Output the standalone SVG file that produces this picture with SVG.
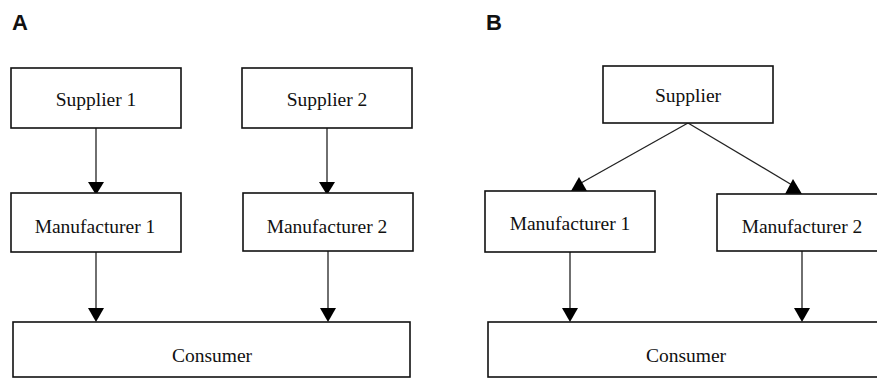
<svg xmlns="http://www.w3.org/2000/svg" width="877" height="379" viewBox="0 0 877 379">
<style>
.box{fill:#fff;stroke:#111;stroke-width:1.6}
.lbl{font-family:"Liberation Serif","Times New Roman",serif;font-size:19.5px;fill:#111;text-anchor:middle}
.panel{font-family:"Liberation Sans",Arial,sans-serif;font-size:22px;font-weight:bold;fill:#111}
.ln{stroke:#222;stroke-width:1.3;fill:none}
.head{fill:#000}
</style>
<rect width="877" height="379" fill="#fff"/>
<text class="panel" x="12" y="29.5">A</text>
<text class="panel" x="486" y="29.5">B</text>
<g id="connectors">
<line class="ln" x1="96" y1="128" x2="96" y2="183"/>
<polygon class="head" points="88,182 104,182 96,195"/>
<line class="ln" x1="327" y1="128" x2="327" y2="183"/>
<polygon class="head" points="319,182 335,182 327,195"/>
<line class="ln" x1="96" y1="252" x2="96" y2="309"/>
<polygon class="head" points="88,308 104,308 96,322"/>
<line class="ln" x1="328" y1="251" x2="328" y2="309"/>
<polygon class="head" points="320,308 336,308 328,322"/>
<line class="ln" x1="688" y1="123" x2="581" y2="183"/>
<polygon class="head" points="571,191 587,191 579,177"/>
<line class="ln" x1="688" y1="123" x2="792" y2="185"/>
<polygon class="head" points="785,194 802,194 793,179"/>
<line class="ln" x1="570" y1="252" x2="570" y2="309"/>
<polygon class="head" points="562,308 578,308 570,322"/>
<line class="ln" x1="802" y1="251" x2="802" y2="309"/>
<polygon class="head" points="794,308 810,308 802,322"/>
</g>
<g id="a-supplier1"><rect class="box" x="11" y="68" width="170" height="60"/><text class="lbl" x="96" y="106">Supplier 1</text></g>
<g id="a-supplier2"><rect class="box" x="242" y="68" width="170" height="60"/><text class="lbl" x="327" y="106">Supplier 2</text></g>
<g id="a-manufacturer1"><rect class="box" x="11" y="193" width="170" height="59"/><text class="lbl" x="95" y="233">Manufacturer 1</text></g>
<g id="a-manufacturer2"><rect class="box" x="243" y="193" width="170" height="58"/><text class="lbl" x="327" y="233">Manufacturer 2</text></g>
<g id="a-consumer"><rect class="box" x="13" y="322" width="397" height="55"/><text class="lbl" x="212" y="362">Consumer</text></g>
<g id="b-supplier"><rect class="box" x="603" y="66" width="170" height="57"/><text class="lbl" x="688" y="102">Supplier</text></g>
<g id="b-manufacturer1"><rect class="box" x="485" y="191" width="170" height="61"/><text class="lbl" x="570" y="230">Manufacturer 1</text></g>
<g id="b-manufacturer2"><rect class="box" x="717" y="194" width="175" height="57"/><text class="lbl" x="802" y="233">Manufacturer 2</text></g>
<g id="b-consumer"><rect class="box" x="488" y="322" width="400" height="55"/><text class="lbl" x="686" y="362">Consumer</text></g>
</svg>
